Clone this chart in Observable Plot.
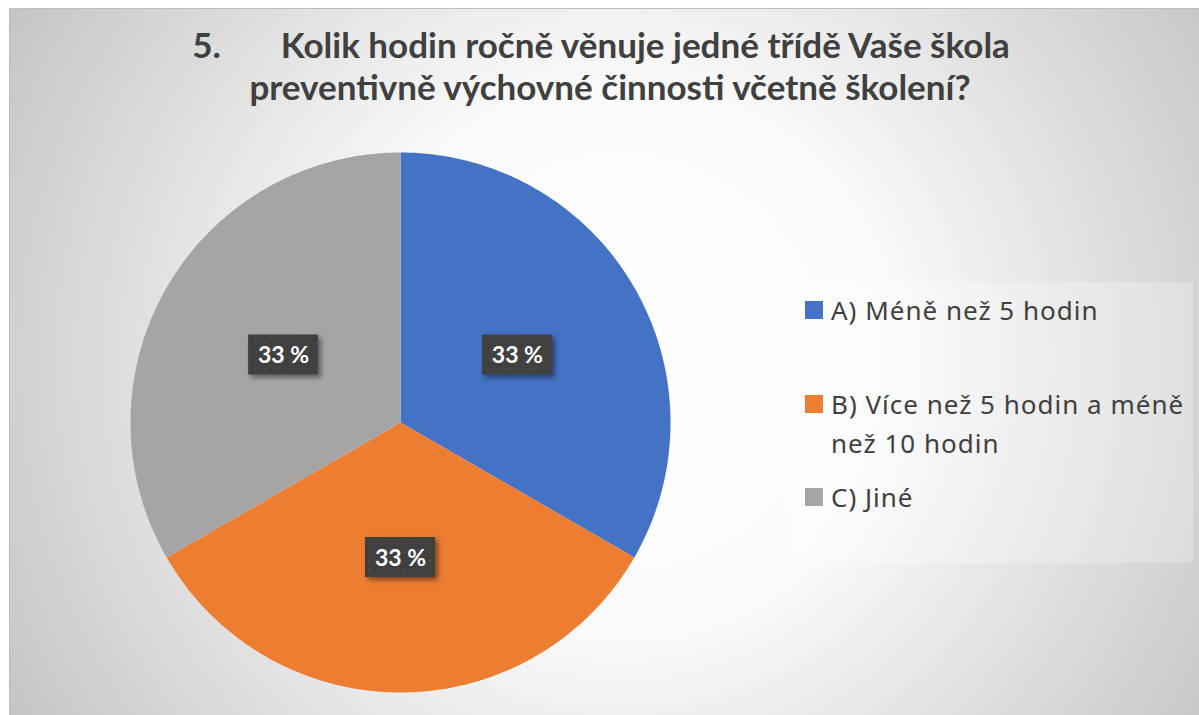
<!DOCTYPE html>
<html>
<head>
<meta charset="utf-8">
<script src="https://cdn.jsdelivr.net/npm/d3@7"></script>
<script src="https://cdn.jsdelivr.net/npm/@observablehq/plot@0.6"></script>
<style>
  html, body { margin: 0; padding: 0; background: #fff; }
  #page { position: absolute; left: 0; top: 0; width: 1199px; height: 715px; overflow: hidden; background: #fff; }
  #area { position: absolute; left: 9px; top: 8px; width: 1190px; height: 707px; box-sizing: border-box;
          border-left: 1px solid #bdbdbd; border-top: 1px solid #bdbdbd;
          background: radial-gradient(circle 720px at 611px 352px, #ffffff 0%, #fafafa 38%, #c3c3c3 100%); }
  #chart { position: absolute; left: 0; top: 0; }
  .title { position: absolute; font-family: Lato, "Open Sans", sans-serif; font-weight: 700; font-size: 35px;
           line-height: 42px; color: #404040; white-space: nowrap; transform: translateX(-50%); }
  #legendbox { position: absolute; left: 790px; top: 282px; width: 403px; height: 281px; background: rgba(255,255,255,0.25); }
  .lg { position: absolute; left: 831px; font-family: "Noto Sans", "Open Sans", sans-serif; font-size: 26px; letter-spacing: 1px; line-height: 39px; color: #404040; white-space: nowrap; }
  .sw { position: absolute; left: 805px; width: 18px; height: 18px; }
</style>
</head>
<body>
<div id="page">
  <div id="area"></div>
  <div id="chart"></div>
  <div class="title" id="t1" style="left:601px; top:23px;">5.<span style="display:inline-block;width:60px"></span>Kolik hodin ročně věnuje jedné třídě Vaše škola</div>
  <div class="title" id="t2" style="left:610px; top:65px;">preventivně výchovné činnosti včetně školení?</div>
  <div id="legendbox"></div>
  <div id="legend"></div>
</div>
<script>
// ---- data ----
const categories = ["A) Méně než 5 hodin", "B) Více než 5 hodin a méně než 10 hodin", "C) Jiné"];
const legendLines = [["A) Méně než 5 hodin"], ["B) Více než 5 hodin a méně", "než 10 hodin"], ["C) Jiné"]];
const values = [33, 33, 33];
const colors = ["#4472C4", "#ED7D31", "#A5A5A5"];

// ---- geometry ----
const pieArcs = d3.pie().sort(null).startAngle(0).endAngle(2 * Math.PI)(values);
const total = d3.sum(values);
const points = [];
pieArcs.forEach((a, i) => {
  points.push({cat: categories[i], x: 0, y: 0});
  const n = 120;
  for (let k = 0; k <= n; k++) {
    const t = a.startAngle + (a.endAngle - a.startAngle) * k / n;
    points.push({cat: categories[i], x: Math.sin(t), y: Math.cos(t)});
  }
});
const radiusPx = 270;
const bw = 35 / radiusPx, bh = 20 / radiusPx;
const labels = pieArcs.map((a, i) => {
  const m = (a.startAngle + a.endAngle) / 2;
  const cx = 0.5 * Math.sin(m), cy = 0.5 * Math.cos(m);
  return {cat: categories[i], x: cx, y: cy, x1: cx - bw, x2: cx + bw, y1: cy - bh, y2: cy + bh,
          text: Math.round(values[i] / total * 100) + " %"};
});

const plot = Plot.plot({
  width: 1199, height: 715, margin: 0,
  x: {domain: [-1, 1], range: [400 - radiusPx, 400 + radiusPx], axis: null},
  y: {domain: [-1, 1], range: [422 + radiusPx, 422 - radiusPx], axis: null},
  color: {domain: categories, range: colors},
  style: {background: "transparent", overflow: "visible"},
  marks: [
    Plot.line(points, {x: "x", y: "y", z: "cat", fill: "cat", stroke: "none", curve: "linear-closed"}),
    Plot.rect(labels, {x1: "x1", x2: "x2", y1: "y1", y2: "y2", fill: "#404040"}),
    Plot.text(labels, {x: "x", y: "y", text: "text", fill: "white", fontSize: 23, fontWeight: "bold",
                       fontFamily: "Lato", dy: 1})
  ]
});
document.getElementById("chart").appendChild(plot);

// pattern + shadow for label boxes
const svg = d3.select(plot);
const defs = svg.insert("defs", ":first-child");
const pat = defs.append("pattern").attr("id", "dots").attr("patternUnits", "userSpaceOnUse")
  .attr("width", 8.7).attr("height", 8.7);
pat.append("rect").attr("width", 8.7).attr("height", 8.7).attr("fill", "#404040");
pat.append("rect").attr("x", 3).attr("y", 3).attr("width", 1.6).attr("height", 1.6).attr("fill", "#575757");
const f = defs.append("filter").attr("id", "sh").attr("x", "-30%").attr("y", "-30%").attr("width", "160%").attr("height", "160%");
f.append("feDropShadow").attr("dx", 3).attr("dy", 3).attr("stdDeviation", 2.5).attr("flood-color", "#000").attr("flood-opacity", 0.45);
svg.selectAll("g[aria-label=rect] rect").attr("fill", "url(#dots)");
svg.selectAll("g[aria-label=rect]").attr("filter", "url(#sh)");

// legend
const legend = document.getElementById("legend");
const baselines = [320, 414, 507];
legendLines.forEach((lines, i) => {
  const sw = document.createElement("div");
  sw.className = "sw";
  sw.style.top = (baselines[i] - 19) + "px";
  sw.style.background = colors[i];
  legend.appendChild(sw);
  const d = document.createElement("div");
  d.className = "lg";
  d.style.top = (baselines[i] - 29) + "px";
  d.innerHTML = lines.join("<br>");
  legend.appendChild(d);
});
</script>
</body>
</html>
